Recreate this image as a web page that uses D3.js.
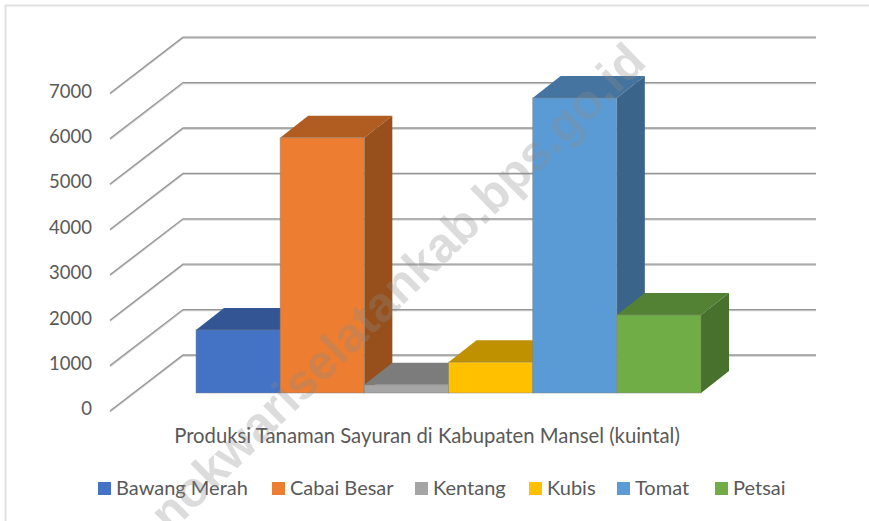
<!DOCTYPE html>
<html>
<head>
<meta charset="utf-8">
<script src="https://cdnjs.cloudflare.com/ajax/libs/d3/7.8.5/d3.min.js"></script>
<style>
html, body { margin: 0; padding: 0; background: #fff; }
svg { display: block; }
text { font-family: Lato, "Open Sans", sans-serif; fill: #595959; }
</style>
</head>
<body>
<script>
var categories = ["Bawang Merah", "Cabai Besar", "Kentang", "Kubis", "Tomat", "Petsai"];
var values = [1390, 5620, 180, 680, 6500, 1720];
var colors = ["#4472c4", "#ed7d31", "#a5a5a5", "#ffc000", "#5b9bd5", "#70ad47"];
var topColors = ["#335593", "#b15d22", "#7c7c7c", "#bf9000", "#44749f", "#548235"];
var sideColors = ["#2c4a80", "#97501b", "#6b6b6b", "#a67d00", "#3a6489", "#48712e"];
var yTicks = [0, 1000, 2000, 3000, 4000, 5000, 6000, 7000];
var axisTitle = "Produksi Tanaman Sayuran di Kabupaten Mansel (kuintal)";
var watermark = "nokwariselatankab.bps.go.id";

var width = 869, height = 521;

var svg = d3.select("body").append("svg")
    .attr("width", width)
    .attr("height", height);

var x = d3.scaleBand().domain(categories).range([196, 701]);
var y = d3.scaleLinear().domain([0, 7000]).range([393, 75.2]);

// depth of the bars and of the floor, in pixels
var barDx = 28, barDy = -22;
var wallFront = 110, wallBack = 183, wallRight = 816;
var frontDy = 18, backDy = -38;

function gridPoints(d) {
    return [[wallFront, y(d) + frontDy], [wallBack, y(d) + backDy], [wallRight, y(d) + backDy]].join(" ");
}

// grid lines, side wall then back wall, with the pale underside they have in the picture
var grid = svg.append("g");
grid.selectAll("polyline.under")
    .data(yTicks)
    .enter()
    .append("polyline")
    .attr("class", "under")
    .attr("points", gridPoints)
    .attr("transform", "translate(0,1)")
    .attr("fill", "none")
    .attr("stroke", "#cfcfcf")
    .attr("stroke-width", 1.4);
grid.selectAll("polyline.line")
    .data(yTicks)
    .enter()
    .append("polyline")
    .attr("class", "line")
    .attr("points", gridPoints)
    .attr("fill", "none")
    .attr("stroke", "#969696")
    .attr("stroke-width", 1.3);

// y labels
svg.append("g").selectAll("text")
    .data(yTicks)
    .enter()
    .append("text")
    .attr("x", 92)
    .attr("y", function(d) { return y(d) + 16; })
    .attr("dy", "0.35em")
    .attr("text-anchor", "end")
    .attr("font-size", 18.5)
    .text(function(d) { return d; });

var bars = svg.append("g").selectAll("g")
    .data(categories)
    .enter()
    .append("g");

function barX(d) { return x(d); }
function barTop(d, i) { return y(values[i]); }

bars.append("path")
    .attr("d", function(d, i) {
        var l = barX(d), r = l + x.bandwidth(), t = barTop(d, i);
        return "M" + l + "," + t + "L" + (l + barDx) + "," + (t + barDy) +
            "L" + (r + barDx) + "," + (t + barDy) + "L" + r + "," + t + "Z";
    })
    .attr("fill", function(d, i) { return topColors[i]; });

bars.append("path")
    .attr("d", function(d, i) {
        var r = barX(d) + x.bandwidth(), t = barTop(d, i), b = y(0);
        return "M" + r + "," + t + "L" + (r + barDx) + "," + (t + barDy) +
            "L" + (r + barDx) + "," + (b + barDy) + "L" + r + "," + b + "Z";
    })
    .attr("fill", function(d, i) { return sideColors[i]; });

bars.append("rect")
    .attr("x", barX)
    .attr("y", barTop)
    .attr("width", x.bandwidth())
    .attr("height", function(d, i) { return y(0) - y(values[i]); })
    .attr("fill", function(d, i) { return colors[i]; })
    .attr("stroke", "#7f7f7f")
    .attr("stroke-opacity", 0.45);

svg.append("text")
    .attr("x", 427)
    .attr("y", 443)
    .attr("text-anchor", "middle")
    .attr("font-size", 20.3)
    .text(axisTitle);

// legend, columns as they sit in the picture
var legendX = [98, 272, 415, 529, 617, 715];
var legend = svg.append("g").selectAll("g")
    .data(categories)
    .enter()
    .append("g")
    .attr("transform", function(d, i) { return "translate(" + legendX[i] + ",482)"; });

legend.append("rect")
    .attr("width", 13)
    .attr("height", 13)
    .attr("fill", function(d, i) { return colors[i]; });

legend.append("text")
    .attr("x", 18)
    .attr("y", 12.5)
    .attr("font-size", 20)
    .text(function(d) { return d; });

// watermark over everything
svg.append("text")
    .attr("transform", "translate(636,52) rotate(-44.5)")
    .attr("text-anchor", "end")
    .attr("dy", "0.35em")
    .style("font-family", "'Liberation Sans', sans-serif")
    .style("font-weight", "bold")
    .style("fill", "#8c8c8c")
    .style("fill-opacity", 0.3)
    .attr("font-size", 49)
    .text(watermark);

// picture border, top and left only
svg.append("path")
    .attr("d", "M5.5," + height + "V5.5H" + width)
    .attr("fill", "none")
    .attr("stroke", "#e2e2e2")
    .attr("stroke-width", 2);
</script>
</body>
</html>
